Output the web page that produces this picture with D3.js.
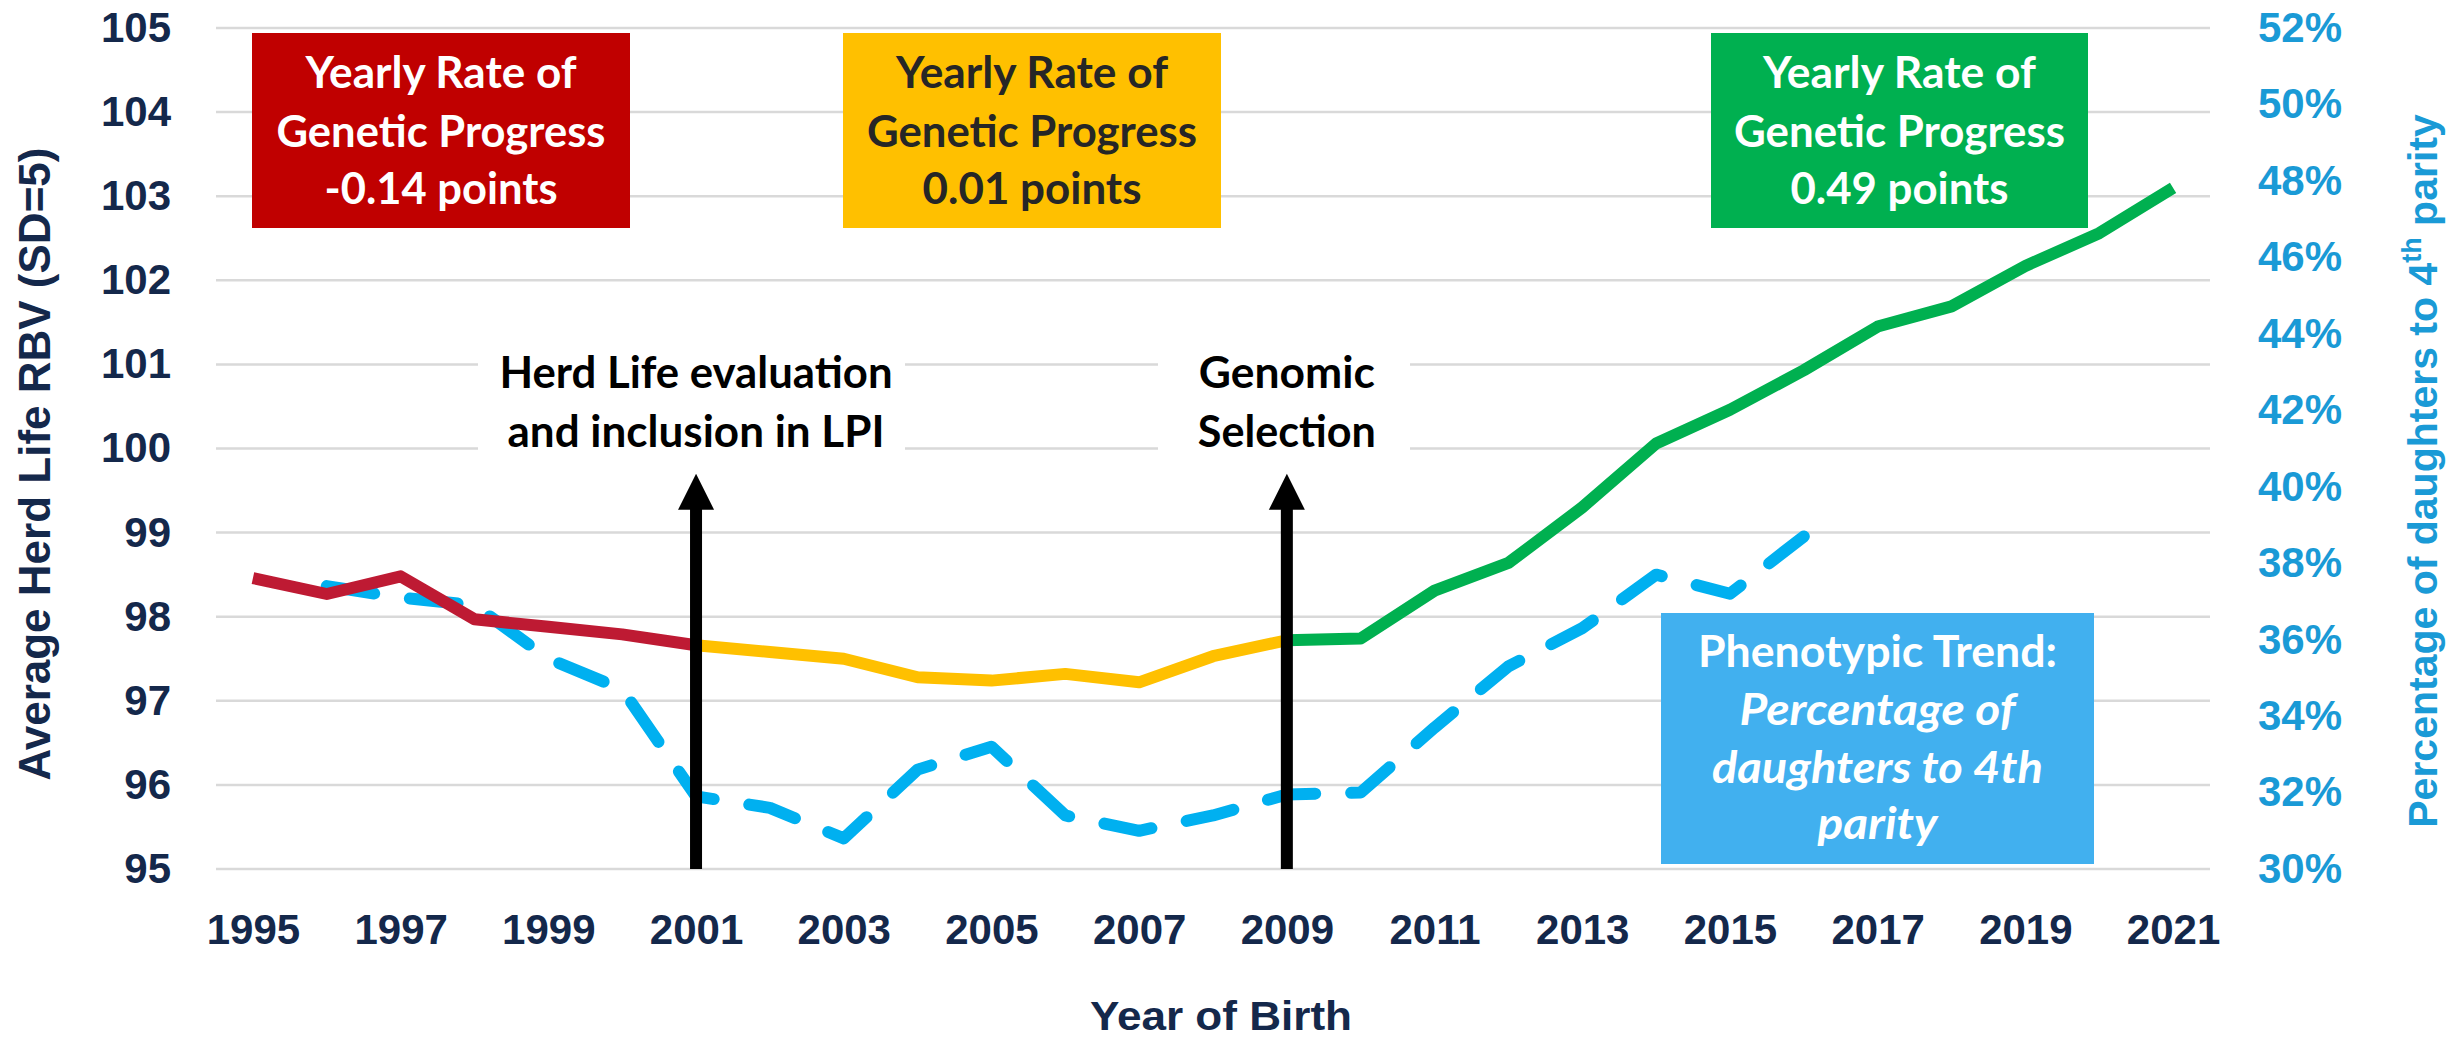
<!DOCTYPE html>
<html><head><meta charset="utf-8">
<script src="https://cdn.jsdelivr.net/npm/d3@7"></script>
<style>
html,body{margin:0;padding:0;background:#fff;}
svg{display:block;}
</style></head><body>
<svg id="chart" width="2463" height="1040"></svg>
<script>
// ---------------- DATA ----------------
const years = [1995,1996,1997,1998,1999,2000,2001,2002,2003,2004,2005,2006,2007,2008,2009,2010,2011,2012,2013,2014,2015,2016,2017,2018,2019,2020,2021];
const xTickYears = [1995,1997,1999,2001,2003,2005,2007,2009,2011,2013,2015,2017,2019,2021];
const leftTicks = [95,96,97,98,99,100,101,102,103,104,105];
const rightTicks = [0.30,0.32,0.34,0.36,0.38,0.40,0.42,0.44,0.46,0.48,0.50,0.52];

const redYears = [1995,1996,1997,1998,1999,2000,2001];
const redValues = [98.46,98.27,98.48,97.97,97.88,97.79,97.66];

const yellowYears = [2001,2002,2003,2004,2005,2006,2007,2008,2009];
const yellowValues = [97.66,97.58,97.50,97.28,97.24,97.32,97.22,97.53,97.72];

const greenYears = [2009,2010,2011,2012,2013,2014,2015,2016,2017,2018,2019,2020,2021];
const greenValues = [97.72,97.74,98.31,98.64,99.30,100.06,100.46,100.93,101.45,101.69,102.17,102.56,103.10];

const blueYears = [1996,1997,1998,1999,2000,2001,2002,2003,2004,2005,2006,2007,2008,2009,2010,2011,2012,2013,2014,2015,2016];
const bluePct = [0.374,0.371,0.369,0.355,0.347,0.319,0.316,0.308,0.326,0.332,0.314,0.310,0.314,0.3195,0.320,0.337,0.353,0.363,0.377,0.372,0.387];

const eventYears = [2001,2009];
const eventArrowTop = 99.7;   // arrow tip, left-axis units
const eventLabels = [["Herd Life evaluation","and inclusion in LPI"],["Genomic","Selection"]];

const rateLabels = [
  ["Yearly Rate of","Genetic Progress","-0.14 points"],
  ["Yearly Rate of","Genetic Progress","0.01 points"],
  ["Yearly Rate of","Genetic Progress","0.49 points"]
];
const phenoLabels = ["Phenotypic Trend:","Percentage of","daughters to 4th","parity"];

const leftTitle = "Average Herd Life RBV (SD=5)";
const xTitle = "Year of Birth";

// ---------------- LAYOUT ----------------
const plot = {left:216, right:2210, top:28, bottom:869};
const C = {
  navy:"#14284b", blueAxis:"#1a9ad6", grid:"#d9d9d9",
  red:"#be1a33", yellow:"#ffc000", green:"#00b050", blue:"#00b0f0",
  boxRed:"#c00000", boxYellow:"#ffc000", boxGreen:"#00b050", boxBlue:"#41b0ef"
};
const boxFont = "Lato, 'Open Sans', sans-serif";
const axisFont = "'Liberation Sans', Arial, sans-serif";

const rateBoxes = [
  {x:252, y:33, w:378, h:195, fill:C.boxRed, color:"#ffffff", widths:[271,329,233]},
  {x:843, y:33, w:378, h:195, fill:C.boxYellow, color:"#262626", widths:[272,330,219]},
  {x:1711, y:33, w:377, h:195, fill:C.boxGreen, color:"#ffffff", widths:[273,331,218]}
];
const rateBaselines = [88,147,204];
const phenoBox = {x:1661, y:613, w:433, h:251, widths:[359,276,331,120], baselines:[667,725,783,839]};
const eventText = {widths:[[393,377],[176,178]], baselines:[388,447], bg:[[478,905],[1158,1410]], bgY:[336,462]};

// ---------------- CHART ----------------
const svg = d3.select("#chart");

const x = d3.scalePoint().domain(years).range([plot.left, plot.right]).padding(0.5);
const yL = d3.scaleLinear().domain([95,105]).range([plot.bottom, plot.top]);
const yR = d3.scaleLinear().domain([0.30,0.52]).range([plot.bottom, plot.top]);

// gridlines
svg.append("g").selectAll("line").data(leftTicks).join("line")
  .attr("x1", plot.left).attr("x2", plot.right)
  .attr("y1", d => yL(d)).attr("y2", d => yL(d))
  .attr("stroke", C.grid).attr("stroke-width", 2.5);

// white backgrounds for event text
svg.append("g").selectAll("rect").data(eventText.bg).join("rect")
  .attr("x", d => d[0]).attr("width", d => d[1]-d[0])
  .attr("y", eventText.bgY[0]).attr("height", eventText.bgY[1]-eventText.bgY[0])
  .attr("fill", "#fff");

// left axis
const gL = svg.append("g").attr("transform", `translate(${plot.left},0)`)
  .call(d3.axisLeft(yL).tickValues(leftTicks).tickSize(0).tickPadding(45).tickFormat(d3.format("d")));
gL.select(".domain").remove();
gL.selectAll("text").attr("font-family", axisFont).attr("font-weight", "bold")
  .attr("font-size", 42).attr("fill", C.navy);

// right axis
const gR = svg.append("g").attr("transform", `translate(${plot.right},0)`)
  .call(d3.axisRight(yR).tickValues(rightTicks).tickSize(0).tickPadding(48).tickFormat(d3.format(".0%")));
gR.select(".domain").remove();
gR.selectAll("text").attr("font-family", axisFont).attr("font-weight", "bold")
  .attr("font-size", 42).attr("fill", C.blueAxis);

// bottom axis
const gB = svg.append("g").attr("transform", `translate(0,${plot.bottom})`)
  .call(d3.axisBottom(x).tickValues(xTickYears).tickSize(0).tickPadding(45));
gB.select(".domain").remove();
gB.selectAll("text").attr("font-family", axisFont).attr("font-weight", "bold")
  .attr("font-size", 42).attr("fill", C.navy);

// axis titles
svg.append("text").attr("transform", "translate(50,464) rotate(-90)")
  .attr("text-anchor", "middle").attr("font-family", axisFont).attr("font-weight", "bold")
  .attr("font-size", 44).attr("fill", C.navy).text(leftTitle);

const rt = svg.append("text").attr("transform", "translate(2437,471) rotate(-90)")
  .attr("text-anchor", "middle").attr("font-family", axisFont).attr("font-weight", "bold")
  .attr("font-size", 41).attr("fill", C.blueAxis);
rt.append("tspan").text("Percentage of daughters to 4");
rt.append("tspan").attr("font-size", 27).attr("dy", -16).text("th");
rt.append("tspan").attr("dy", 16).text(" parity");

svg.append("text").attr("x", 1221).attr("y", 1030)
  .attr("text-anchor", "middle").attr("font-family", axisFont).attr("font-weight", "bold")
  .attr("font-size", 41).attr("fill", C.navy)
  .attr("textLength", 262).attr("lengthAdjust", "spacingAndGlyphs").text(xTitle);

// rate boxes
rateBoxes.forEach((b, i) => {
  svg.append("rect").attr("x", b.x).attr("y", b.y).attr("width", b.w).attr("height", b.h).attr("fill", b.fill);
  svg.append("g").selectAll("text").data(rateLabels[i]).join("text")
    .attr("x", b.x + b.w/2).attr("y", (d, j) => rateBaselines[j])
    .attr("text-anchor", "middle").attr("font-family", boxFont).attr("font-weight", "bold")
    .attr("font-size", 44).attr("fill", b.color)
    .attr("textLength", (d, j) => b.widths[j]).attr("lengthAdjust", "spacingAndGlyphs")
    .text(d => d);
});

// phenotypic box
svg.append("rect").attr("x", phenoBox.x).attr("y", phenoBox.y)
  .attr("width", phenoBox.w).attr("height", phenoBox.h).attr("fill", C.boxBlue);
svg.append("g").selectAll("text").data(phenoLabels).join("text")
  .attr("x", phenoBox.x + phenoBox.w/2).attr("y", (d, j) => phenoBox.baselines[j])
  .attr("text-anchor", "middle").attr("font-family", boxFont).attr("font-weight", "bold")
  .attr("font-style", (d, j) => j === 0 ? "normal" : "italic")
  .attr("font-size", 43).attr("fill", "#ffffff")
  .attr("textLength", (d, j) => phenoBox.widths[j]).attr("lengthAdjust", "spacingAndGlyphs")
  .text(d => d);

// lines
const lineL = d3.line().x(d => x(d[0])).y(d => yL(d[1]));
const lineR = d3.line().x(d => x(d[0])).y(d => yR(d[1]));

svg.append("path").datum(d3.zip(blueYears, bluePct)).attr("d", lineR)
  .attr("fill", "none").attr("stroke", C.blue).attr("stroke-width", 12)
  .attr("stroke-dasharray", "48,36").attr("stroke-linecap", "round").attr("stroke-linejoin", "round");

[[redYears, redValues, C.red],[yellowYears, yellowValues, C.yellow],[greenYears, greenValues, C.green]]
.forEach(([ys, vs, col]) => {
  svg.append("path").datum(d3.zip(ys, vs)).attr("d", lineL)
    .attr("fill", "none").attr("stroke", col).attr("stroke-width", 12)
    .attr("stroke-linejoin", "round").attr("stroke-linecap", "butt");
});

// event arrows + labels
eventYears.forEach((yr, i) => {
  const ax = x(yr), y0 = yL(95), yt = yL(eventArrowTop), hb = yt + 36;
  svg.append("rect").attr("x", ax - 6).attr("y", hb - 1).attr("width", 12).attr("height", y0 - hb + 1).attr("fill", "#000");
  svg.append("path").attr("d", `M${ax-18},${hb} L${ax},${yt} L${ax+18},${hb} Z`).attr("fill", "#000");
  svg.append("g").selectAll("text").data(eventLabels[i]).join("text")
    .attr("x", ax).attr("y", (d, j) => eventText.baselines[j])
    .attr("text-anchor", "middle").attr("font-family", boxFont).attr("font-weight", "bold")
    .attr("font-size", 44).attr("fill", "#000")
    .attr("textLength", (d, j) => eventText.widths[i][j]).attr("lengthAdjust", "spacingAndGlyphs")
    .text(d => d);
});
</script>
</body></html>
